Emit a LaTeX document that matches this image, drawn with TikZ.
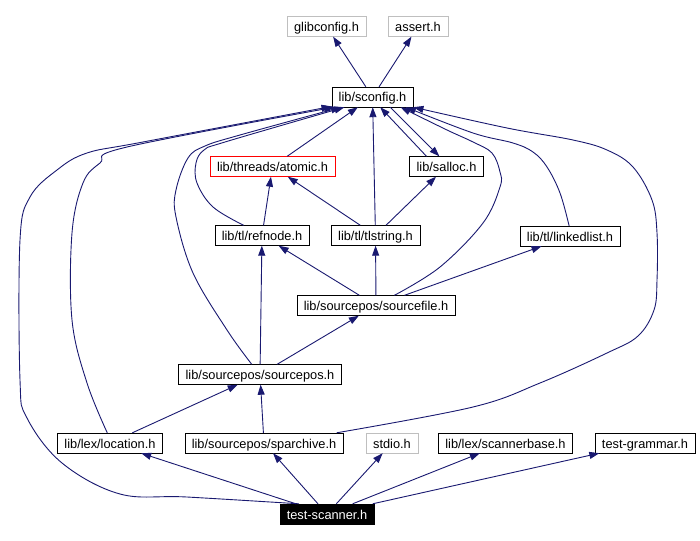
\documentclass[tikz,border=0pt]{standalone}
\usepackage{fontspec}
\setmainfont{Liberation Sans}
\usetikzlibrary{arrows.meta}
\definecolor{depblue}{HTML}{191970}
\definecolor{sysgray}{HTML}{BFBFBF}

\begin{document}
\begin{tikzpicture}[x=1pt,y=-1pt,
  every node/.style={draw, rectangle, inner xsep=7pt, inner ysep=0pt, minimum height=20pt, text height=10pt, text depth=0pt, font=\fontsize{12.8}{14}\selectfont},
  sys/.style={draw=sysgray},
  dep/.style={draw=depblue, line width=0.9pt, -{Triangle[length=10pt,width=7pt]}}]
\useasboundingbox (0,0) rectangle (700,540);

\node[sys] (glibcfg) at (326.5,26.5) {glibconfig.h};
\node[sys] (assert) at (418,26.5) {assert.h};
\node (sconfig) at (372.5,97) {lib/sconfig.h};
\node[draw=red] (atomic) at (272.5,166.5) {lib/threads/atomic.h};
\node (salloc) at (446.5,166.5) {lib/salloc.h};
\node (refnode) at (262,235.5) {lib/tl/refnode.h};
\node (tlstring) at (375.5,235.5) {lib/tl/tlstring.h};
\node (linkedlist) at (570,236) {lib/tl/linkedlist.h};
\node (srcfile) at (376,305.5) {lib/sourcepos/sourcefile.h};
\node (srcpos) at (260,374.5) {lib/sourcepos/sourcepos.h};
\node (location) at (110,443) {lib/lex/location.h};
\node (sparchive) at (264,443) {lib/sourcepos/sparchive.h};
\node[sys] (stdio) at (392,443) {stdio.h};
\node (scanbase) at (505.5,443) {lib/lex/scannerbase.h};
\node (tgrammar) at (645,443) {test-grammar.h};
\node[fill=black, text=white] (tscan) at (327,514) {test-scanner.h};

\draw[dep] (sconfig) -- (glibcfg);
\draw[dep] (sconfig) -- (assert);
\draw[dep] (atomic) -- (sconfig);
\draw[dep] (salloc.153) -- (sconfig.-53);
\draw[dep] (sconfig.-30) -- (salloc.125);
\draw[dep] (refnode) -- (atomic);
\draw[dep] (tlstring) -- (atomic);
\draw[dep] (tlstring) -- (salloc);
\draw[dep] (tlstring) -- (sconfig);
\draw[dep] (srcfile) -- (refnode);
\draw[dep] (srcfile) -- (tlstring);
\draw[dep] (srcfile) -- (linkedlist);
\draw[dep] (srcpos) -- (srcfile);
\draw[dep] (srcpos) -- (refnode);
\draw[dep] (location) -- (srcpos);
\draw[dep] (sparchive) -- (srcpos);
\draw[dep] (tscan) -- (location);
\draw[dep] (tscan) -- (sparchive);
\draw[dep] (tscan) -- (stdio);
\draw[dep] (tscan) -- (scanbase);
\draw[dep] (tscan) -- (tgrammar);

\draw[dep] plot[smooth, tension=0.6] coordinates {(refnode.151) (213,207) (197,183) (196,163) (204,150) (225,142) (sconfig.200)};
\draw[dep] plot[smooth, tension=0.6] coordinates {(srcpos.129) (227,330) (193,273) (176,217) (176,190) (188,158) (205,146) (240,135) (sconfig.198)};
\draw[dep] plot[smooth, tension=0.6] coordinates {(location.105) (87,383) (72,320) (72,233) (83,183) (100,163) (127,147) (sconfig.195)};
\draw[dep] plot[smooth, tension=0.6] coordinates {(tscan.160) (187,497) (120,494) (62,463) (27,418) (20,380) (20,240) (30,197) (57,170) (87,153) (143,142) (sconfig.193)};
\draw[dep] plot[smooth, tension=0.6] coordinates {(srcfile.29) (440,267) (483,223) (500,187) (500,172) (492,153) (473,142) (447,130) (sconfig.-20)};
\draw[dep] plot[smooth, tension=0.6] coordinates {(linkedlist.95) (560,193) (547,167) (533,152) (513,143) (473,133) (sconfig.-17)};
\draw[dep] plot[smooth, tension=0.6] coordinates {(sparchive.8) (473,407) (540,383) (607,353) (638,336) (654,310) (657,280) (657,233) (652,200) (633,167) (607,150) (573,140) (507,128) (sconfig.-14)};
\end{tikzpicture}
\end{document}
